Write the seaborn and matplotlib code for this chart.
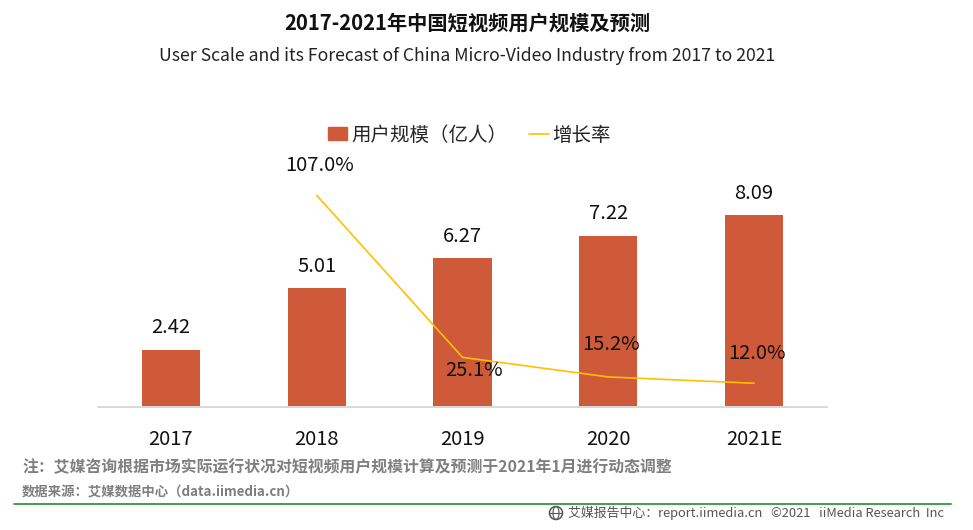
#!/usr/bin/env python3
import pandas as pd
import matplotlib.pyplot as plt
import matplotlib.patches as mpatches
import matplotlib.lines as mlines
import seaborn as sns

years = ["2017", "2018", "2019", "2020", "2021E"]
users = [2.42, 5.01, 6.27, 7.22, 8.09]
growth = [None, 107.0, 25.1, 15.2, 12.0]
growth_labels = ["", "107.0%", "25.1%", "15.2%", "12.0%"]
# label offsets from the line points, in pixels
growth_offsets = [(0, 0), (3, 30), (12, -13), (3, 32), (3, 30)]

BAR_COLOR = "#CE5A3A"
LINE_COLOR = "#FFC000"
W, H = 973, 530

sns.set_theme(style="white")
plt.rcParams["font.family"] = ["Noto Sans CJK SC", "DejaVu Sans"]
plt.rcParams["axes.unicode_minus"] = False

df = pd.DataFrame({"year": years, "users": users, "growth": growth})

fig = plt.figure(figsize=(W / 100, H / 100), dpi=100)
fig.patch.set_facecolor("white")
ax = fig.add_axes([98 / W, 1 - 407 / H, 729 / W, 260 / H])
ax2 = ax.twinx()

sns.barplot(data=df, x="year", y="users", color=BAR_COLOR, saturation=1, width=0.4, linewidth=0, ax=ax)
sns.lineplot(data=df.dropna(), x="year", y="growth", color=LINE_COLOR, linewidth=1.2, ax=ax2)

ax.set_xlim(-0.5, 4.5)
ax.set_ylim(0, 260 / 23.73)
ax2.set_ylim(0, 260 / 1.978)
ax2.set_zorder(3)
ax.set_xlabel("")
ax.set_ylabel("")
ax2.set_xlabel("")
ax2.set_ylabel("")
ax.set_yticks([])
ax2.set_yticks([])
ax.tick_params(axis="x", length=0, pad=16, labelsize=14.5, labelcolor="#111111")
for a in (ax, ax2):
    for side in ("top", "left", "right"):
        a.spines[side].set_visible(False)
    a.spines["bottom"].set_color("#D9D9D9")
    a.patch.set_visible(False)

for i, v in enumerate(users):
    ax.annotate(f"{v:.2f}", (i, v), xytext=(0, 22), textcoords="offset pixels",
                ha="center", va="center", fontsize=14.5, color="#111111")

for i, (g, lab) in enumerate(zip(growth, growth_labels)):
    if g is None:
        continue
    ax2.annotate(lab, (i, g), xytext=growth_offsets[i], textcoords="offset pixels",
                 ha="center", va="center", fontsize=14.5, color="#111111")

handles = [mpatches.Patch(color=BAR_COLOR, label="用户规模（亿人）"),
           mlines.Line2D([], [], color=LINE_COLOR, linewidth=1.2, label="增长率")]
fig.legend(handles=handles, loc="center", bbox_to_anchor=(469.5 / W, 1 - 135 / H), ncol=2,
           frameon=False, fontsize=14, handlelength=1.0, handleheight=0.65,
           handletextpad=0.2, columnspacing=1.13)

fig.text(467 / W, 1 - 23 / H, "2017-2021年中国短视频用户规模及预测", ha="center", va="center",
         fontsize=14.6, fontweight="bold", color="#111111")
fig.text(467 / W, 1 - 56 / H, "User Scale and its Forecast of China Micro-Video Industry from 2017 to 2021",
         ha="center", va="center", fontsize=12.7, color="#222222")

fig.text(22 / W, 1 - 467 / H, "注：艾媒咨询根据市场实际运行状况对短视频用户规模计算及预测于2021年1月进行动态调整",
         ha="left", va="center", fontsize=11.4, fontweight="bold", color="#7F7F7F")
fig.text(22 / W, 1 - 493 / H, "数据来源：艾媒数据中心（data.iimedia.cn）",
         ha="left", va="center", fontsize=9.6, fontweight="bold", color="#7F7F7F")

fig.add_artist(mlines.Line2D([14 / W, 951 / W], [1 - 504 / H, 1 - 504 / H], color="#2E9A3C", linewidth=1.3))
# small globe icon in the footer
fig.add_artist(mpatches.Ellipse((556 / W, 1 - 513 / H), 13 / W, 13 / H, fill=False, edgecolor="#555555", linewidth=1.1))
fig.add_artist(mpatches.Ellipse((556 / W, 1 - 513 / H), 6 / W, 13 / H, fill=False, edgecolor="#555555", linewidth=0.8))
fig.add_artist(mlines.Line2D([550 / W, 562 / W], [1 - 513 / H, 1 - 513 / H], color="#555555", linewidth=0.8))
fig.text(944 / W, 1 - 513 / H, "艾媒报告中心：report.iimedia.cn   ©2021   iiMedia Research  Inc",
         ha="right", va="center", fontsize=9.3, color="#555555")

fig.savefig("out.png", dpi=100)
plt.close(fig)
